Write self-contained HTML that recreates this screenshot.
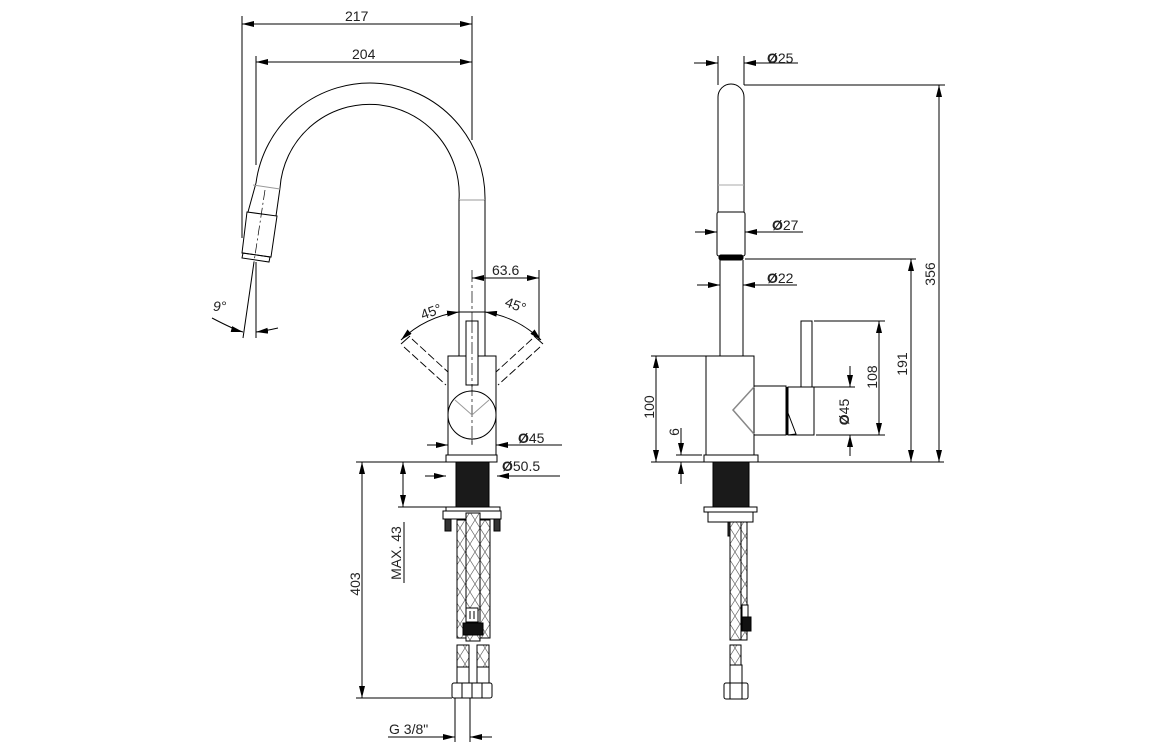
<!DOCTYPE html>
<html><head><meta charset="utf-8"><style>
html,body{margin:0;padding:0;background:#fff;}
svg{display:block;}
text{font-family:"Liberation Sans",sans-serif;font-size:14px;fill:#222;}
</style></head><body>
<svg width="1156" height="742" viewBox="0 0 1156 742" xmlns="http://www.w3.org/2000/svg">
<defs>
<marker id="a" viewBox="0 0 12 6" refX="12" refY="3" markerWidth="12" markerHeight="6" orient="auto-start-reverse" markerUnits="userSpaceOnUse"><path d="M0,0 L12,3 L0,6 z" fill="#000"/></marker>
<pattern id="h" width="10" height="16" patternUnits="userSpaceOnUse"><rect width="10" height="16" fill="#fff"/><path d="M0,0 L10,16 M10,0 L0,16" stroke="#666" stroke-width="0.7"/></pattern>
</defs>
<g stroke="#000" stroke-width="1" fill="none">
<!-- ===== LEFT VIEW ===== -->
<line x1="242" y1="16" x2="242" y2="238"/>
<line x1="256" y1="56" x2="256" y2="165"/>
<line x1="472" y1="16" x2="472" y2="140"/>
<line x1="242" y1="24" x2="472" y2="24" marker-start="url(#a)" marker-end="url(#a)"/>
<line x1="256" y1="62" x2="472" y2="62" marker-start="url(#a)" marker-end="url(#a)"/>
<path d="M485,200 A115,115 0 0 0 256,183"/>
<path d="M459,200 A89,89 0 0 0 280,188"/>
<line x1="459" y1="200" x2="485" y2="200" stroke="#999"/>
<path d="M256,183 L248,212 M280,188 L276,216"/>
<line x1="253" y1="185" x2="280" y2="189" stroke="#999"/>
<path d="M247,212 L277,216 L271,257 L242,253 Z"/>
<path d="M243,253 L270,257 L269,262 L242,258 Z"/>
<line x1="265" y1="190" x2="254" y2="262" stroke-dasharray="10,3,2,3" stroke-width="0.7"/>
<line x1="256" y1="262" x2="256" y2="338"/>
<line x1="254" y1="262" x2="243" y2="338"/>
<path d="M212,318 Q235,330 243,332" marker-end="url(#a)"/>
<path d="M278,328 Q265,331 256,332" marker-end="url(#a)"/>
<line x1="459" y1="200" x2="459" y2="356"/>
<line x1="485" y1="200" x2="485" y2="356"/>
<line x1="472" y1="270" x2="472" y2="445" stroke-dasharray="12,3,3,3" stroke-width="0.7"/>
<line x1="539" y1="270" x2="539" y2="340"/>
<line x1="486" y1="278" x2="539" y2="278" marker-end="url(#a)"/>
<line x1="472" y1="278" x2="486" y2="278" marker-start="url(#a)"/>
<path d="M401,340 A102,102 0 0 1 459,312" marker-start="url(#a)" marker-end="url(#a)"/>
<path d="M485,312 A102,102 0 0 1 541,340" marker-start="url(#a)" marker-end="url(#a)"/>
<line x1="459" y1="312" x2="485" y2="312"/>
<g stroke-dasharray="8,3" stroke-width="0.9">
<line x1="404" y1="347" x2="446" y2="385"/>
<line x1="412" y1="339" x2="448" y2="372"/>
<line x1="540" y1="347" x2="498" y2="385"/>
<line x1="532" y1="339" x2="496" y2="372"/>
</g>
<line x1="401" y1="344" x2="410" y2="336"/><line x1="543" y1="344" x2="534" y2="336"/>
<rect x="448" y="356" width="48" height="99"/>
<rect x="466" y="321" width="12" height="64" fill="#fff"/>
<circle cx="472" cy="415" r="24" fill="#fff"/>
<line x1="472" y1="321" x2="472" y2="445" stroke-dasharray="12,3,3,3" stroke-width="0.7"/>
<path d="M455,400 L472,415 L489,400" stroke="#999"/>
<rect x="446" y="455" width="51" height="7"/>
<line x1="427" y1="445" x2="448" y2="445" marker-end="url(#a)"/>
<line x1="562" y1="445" x2="496" y2="445" marker-end="url(#a)"/>
<line x1="425" y1="476" x2="446" y2="476" marker-end="url(#a)"/>
<line x1="560" y1="476" x2="497" y2="476" marker-end="url(#a)"/>
<rect x="456" y="462" width="33" height="45" fill="#1a1a1a"/>
<line x1="356" y1="462" x2="446" y2="462"/>
<line x1="398" y1="507" x2="446" y2="507"/>
<line x1="403" y1="462" x2="403" y2="507" marker-start="url(#a)" marker-end="url(#a)"/>
<line x1="362" y1="462" x2="362" y2="698" marker-start="url(#a)" marker-end="url(#a)"/>
<line x1="356" y1="698" x2="452" y2="698"/>
<rect x="446" y="507" width="54" height="4" fill="#fff"/>
<rect x="443" y="511" width="58" height="8" fill="#fff"/>
<rect x="445" y="519" width="6" height="12" fill="#333"/>
<rect x="494" y="519" width="6" height="12" fill="#333"/>
<rect x="457" y="520" width="14" height="118" fill="url(#h)"/>
<rect x="477" y="520" width="13" height="118" fill="url(#h)"/>
<rect x="466" y="513" width="14" height="128" fill="url(#h)"/>
<rect x="466" y="608" width="12" height="14" fill="#fff"/>
<line x1="470" y1="611" x2="470" y2="619"/><line x1="474" y1="611" x2="474" y2="619"/>
<rect x="463" y="623" width="20" height="12" fill="#111"/>
<rect x="457" y="645" width="12" height="22" fill="url(#h)"/>
<rect x="477" y="645" width="12" height="22" fill="url(#h)"/>
<rect x="457" y="667" width="12" height="16" fill="#fff"/>
<rect x="477" y="667" width="12" height="16" fill="#fff"/>
<rect x="452" y="683" width="40" height="15" rx="2" fill="#fff"/>
<line x1="462" y1="683" x2="462" y2="698"/><line x1="472" y1="683" x2="472" y2="698"/><line x1="482" y1="683" x2="482" y2="698"/>
<line x1="455" y1="698" x2="455" y2="742"/><line x1="470" y1="698" x2="470" y2="742"/>
<line x1="388" y1="737" x2="455" y2="737" marker-end="url(#a)"/>
<line x1="492" y1="737" x2="470" y2="737" marker-end="url(#a)"/>
<line x1="404" y1="522" x2="404" y2="583"/>

<!-- ===== RIGHT VIEW ===== -->
<path d="M718,212 L718,97 A13,13 0 0 1 744,97 L744,212"/>
<line x1="718" y1="185" x2="744" y2="185" stroke="#aaa"/>
<rect x="717" y="212" width="28" height="44" rx="2"/>
<rect x="719" y="255" width="24" height="5" rx="2" fill="#000"/>
<line x1="720" y1="260" x2="720" y2="356"/><line x1="743" y1="260" x2="743" y2="356"/>
<line x1="718" y1="56" x2="718" y2="85"/><line x1="744" y1="56" x2="744" y2="85"/>
<line x1="694" y1="63" x2="718" y2="63" marker-end="url(#a)"/>
<line x1="798" y1="63" x2="744" y2="63" marker-end="url(#a)"/>
<line x1="695" y1="232" x2="717" y2="232" marker-end="url(#a)"/>
<line x1="803" y1="232" x2="745" y2="232" marker-end="url(#a)"/>
<line x1="697" y1="285" x2="720" y2="285" marker-end="url(#a)"/>
<line x1="797" y1="285" x2="743" y2="285" marker-end="url(#a)"/>
<line x1="744" y1="85" x2="945" y2="85"/>
<line x1="745" y1="259" x2="916" y2="259"/>
<line x1="939" y1="85" x2="939" y2="462" marker-start="url(#a)" marker-end="url(#a)"/>
<line x1="911" y1="259" x2="911" y2="462" marker-start="url(#a)" marker-end="url(#a)"/>
<rect x="706" y="356" width="48" height="99"/>
<path d="M754,386 L786,386 L786,435 L754,435"/>
<path d="M754,387 L733,410 L754,434" stroke="#888" stroke-width="1.5"/>
<line x1="787" y1="387" x2="787" y2="435" stroke-width="2"/>
<rect x="788" y="387" width="26" height="48"/>
<path d="M788,413 L796,434 L788,435"/>
<rect x="801" y="321" width="11" height="66" fill="#fff"/>
<rect x="704" y="455" width="54" height="7"/>
<line x1="814" y1="321" x2="885" y2="321"/>
<line x1="814" y1="387" x2="855" y2="387"/>
<line x1="816" y1="435" x2="885" y2="435"/>
<line x1="879" y1="321" x2="879" y2="435" marker-start="url(#a)" marker-end="url(#a)"/>
<line x1="850" y1="366" x2="850" y2="387" marker-end="url(#a)"/>
<line x1="850" y1="456" x2="850" y2="435" marker-end="url(#a)"/>
<line x1="651" y1="356" x2="706" y2="356"/>
<line x1="651" y1="462" x2="944" y2="462"/>
<line x1="656" y1="356" x2="656" y2="462" marker-start="url(#a)" marker-end="url(#a)"/>
<line x1="676" y1="455" x2="702" y2="455"/>
<line x1="681" y1="428" x2="681" y2="455" marker-end="url(#a)"/>
<line x1="681" y1="484" x2="681" y2="462" marker-end="url(#a)"/>
<rect x="713" y="462" width="36" height="46" fill="#1a1a1a"/>
<rect x="704" y="507" width="53" height="5" fill="#fff"/>
<rect x="708" y="512" width="45" height="10" fill="#fff"/>
<rect x="728" y="522" width="6" height="14" fill="#333"/>
<rect x="730" y="522" width="11" height="118" fill="url(#h)"/>
<rect x="741" y="522" width="6" height="118" fill="url(#h)"/>
<rect x="742" y="605" width="6" height="12" fill="#fff"/>
<rect x="742" y="617" width="9" height="14" fill="#111"/>
<rect x="730" y="645" width="11" height="20" fill="url(#h)"/>
<rect x="730" y="665" width="12" height="18" fill="#fff"/>
<rect x="724" y="683" width="24" height="16" rx="2" fill="#fff"/>
<line x1="730" y1="683" x2="730" y2="699"/><line x1="742" y1="683" x2="742" y2="699"/>
</g>
<text x="345" y="21">217</text>
<text x="352" y="59">204</text>
<text x="492" y="275">63.6</text>
<text x="213" y="311" font-style="italic">9°</text>
<text x="420" y="316" transform="rotate(-20 432 310)">45°</text>
<text x="505" y="310" transform="rotate(20 516 305)">45°</text>
<text x="518" y="443" font-size="17" font-weight="bold">Ø<tspan font-size="14" font-weight="normal">45</tspan></text>
<text x="502" y="471" font-size="17" font-weight="bold">Ø<tspan font-size="14" font-weight="normal">50.5</tspan></text>
<text x="360" y="584" transform="rotate(-90 360 584)" text-anchor="middle">403</text>
<text x="401" y="553" transform="rotate(-90 401 553)" text-anchor="middle">MAX. 43</text>
<text x="389" y="734">G 3/8"</text>
<text x="767" y="63" font-size="17" font-weight="bold">Ø<tspan font-size="14" font-weight="normal">25</tspan></text>
<text x="772" y="230" font-size="17" font-weight="bold">Ø<tspan font-size="14" font-weight="normal">27</tspan></text>
<text x="767" y="283" font-size="17" font-weight="bold">Ø<tspan font-size="14" font-weight="normal">22</tspan></text>
<text x="935" y="274" transform="rotate(-90 935 274)" text-anchor="middle">356</text>
<text x="907" y="364" transform="rotate(-90 907 364)" text-anchor="middle">191</text>
<text x="877" y="377" transform="rotate(-90 877 377)" text-anchor="middle">108</text>
<text x="849" y="412" transform="rotate(-90 849 412)" text-anchor="middle" font-size="17" font-weight="bold">Ø<tspan font-size="14" font-weight="normal">45</tspan></text>
<text x="654" y="407" transform="rotate(-90 654 407)" text-anchor="middle">100</text>
<text x="679" y="432" transform="rotate(-90 679 432)" text-anchor="middle">6</text>
</svg>
</body></html>
